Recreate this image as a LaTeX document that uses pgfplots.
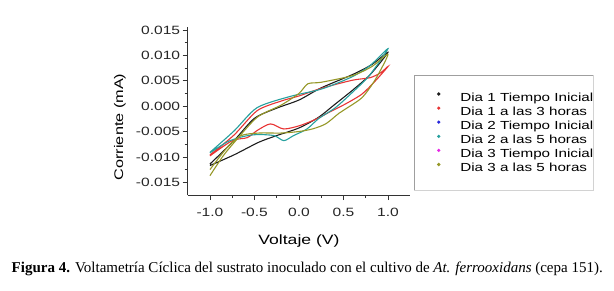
\documentclass[border=0pt]{standalone}
\usepackage{fontspec}
\setmainfont{Liberation Sans}[FakeStretch=1.3]
\newfontfamily\capfont{Liberation Serif}
\usepackage{pgfplots}
\pgfplotsset{compat=1.18}
\definecolor{cBlack}{RGB}{30,30,30}
\definecolor{cRed}{RGB}{232,52,52}
\definecolor{cBlue}{RGB}{40,40,220}
\definecolor{cTeal}{RGB}{38,160,158}
\definecolor{cMag}{RGB}{230,40,230}
\definecolor{cOlive}{RGB}{150,152,40}
\newcommand{\lgs}{\rule[-4.1pt]{0pt}{12.7pt}}
\begin{document}
\begin{tikzpicture}
\path[use as bounding box] (0,0) rectangle (614pt,-290pt);
\begin{axis}[
  at={(187.7pt,-195pt)}, anchor=south west,
  scale only axis, width=222.5pt, height=167.6pt,
  xmin=-1.25, xmax=1.25, ymin=-0.0175, ymax=0.0155,
  axis x line*=bottom, axis y line*=left,
  axis line style={-, line width=0.8pt, black!80},
  tick style={line width=0.8pt, black!80},
  tick align=outside,
  major tick length=5pt, minor tick length=3pt,
  xtick={-1,-0.5,0,0.5,1}, minor x tick num=1,
  ytick={-0.015,-0.01,-0.005,0,0.005,0.01,0.015}, minor y tick num=1,
  scaled y ticks=false, scaled x ticks=false,
  /pgf/number format/assume math mode=true,
  xticklabel style={/pgf/number format/.cd, fixed, fixed zerofill, precision=1, /tikz/.cd, yshift=-4.5pt},
  yticklabel style={/pgf/number format/.cd, fixed, fixed zerofill, precision=3, /tikz/.cd, xshift=1pt},
  tick label style={font=\fontsize{12}{14}\selectfont, black!85},
  xlabel={Voltaje (V)}, ylabel={Corriente (mA)},
  xlabel style={font=\fontsize{13.5}{16}\selectfont, at={(axis description cs:0.5,-0.298)}, anchor=base},
  ylabel style={font=\fontsize{12.5}{15}\selectfont, at={(axis description cs:-0.29,0.406)}, anchor=base},
  legend style={at={(axis description cs:1.116,0.625)}, anchor=north west, draw=none, fill=none,
    inner sep=0pt, row sep=0pt, column sep=17pt, font=\fontsize{11.7}{14}\selectfont},
  legend cell align=left,
  legend image code/.code={\path (-2pt,0) (2pt,0); \fill[#1] (0pt,3.5pt) circle (1pt);},
  every axis plot/.append style={line width=1.1pt, smooth, tension=0.45},
]
% Dia 1 Tiempo Inicial
\addplot[cBlack] coordinates {
(-1,-0.0114) (-0.73,-0.0068) (-0.5,-0.0024) (-0.25,-0.0004) (0,0.0012) (0.25,0.0036) (0.6,0.0062) (0.82,0.0082) (1.0,0.0106)
(0.8,0.0062) (0.6,0.0031) (0.4,0.0003) (0.22,-0.0022) (0.0,-0.0043) (-0.25,-0.0058) (-0.45,-0.0071) (-0.73,-0.0096) (-1,-0.0117)};
\addlegendentry{\lgs Dia 1 Tiempo Inicial}
% Dia 1 a las 3 horas
\addplot[cRed] coordinates {
(-1,-0.0096) (-0.73,-0.0057) (-0.47,-0.0009) (-0.2,0.0010) (0.0,0.0020) (0.25,0.0035) (0.6,0.0051) (0.8,0.0056) (0.92,0.0066) (1.0,0.0078)
(0.86,0.0050) (0.71,0.0024) (0.52,0.0004) (0.34,-0.0012) (0.2,-0.0025) (0.016,-0.0038) (-0.17,-0.0045) (-0.32,-0.0035) (-0.47,-0.0048) (-0.58,-0.0062) (-0.75,-0.0068) (-1,-0.0098)};
\addlegendentry{\lgs Dia 1 a las 3 horas}
\addlegendimage{cBlue}
\addlegendentry{\lgs Dia 2 Tiempo Inicial}
% Dia 2 a las 5 horas
\addplot[cTeal] coordinates {
(-1,-0.0091) (-0.73,-0.0049) (-0.47,-0.0003) (-0.1,0.0019) (0.26,0.0034) (0.6,0.0058) (0.8,0.0080) (1.0,0.0113)
(0.79,0.0060) (0.6,0.0027) (0.41,-0.0003) (0.225,-0.0024) (0.09,-0.0045) (-0.06,-0.0058) (-0.17,-0.0068) (-0.28,-0.0058) (-0.47,-0.0056) (-0.63,-0.0060) (-0.8,-0.0070) (-1,-0.0092)};
\addlegendentry{\lgs Dia 2 a las 5 horas}
\addlegendimage{cMag}
\addlegendentry{\lgs Dia 3 Tiempo Inicial}
% Dia 3 a las 5 horas
\addplot[cOlive] coordinates {
(-1,-0.0137) (-0.86,-0.0100) (-0.73,-0.0072) (-0.47,-0.0022) (-0.2,0.0002) (0.0,0.0025) (0.1,0.0044) (0.25,0.0047) (0.6,0.0060) (0.82,0.0078) (1.0,0.0102)
(0.86,0.0053) (0.71,0.0017) (0.52,-0.0006) (0.45,-0.0014) (0.3,-0.0035) (0.15,-0.0045) (0.0,-0.0050) (-0.2,-0.0053) (-0.45,-0.0053) (-0.65,-0.0058) (-0.8,-0.0080) (-1,-0.0125)};
\addlegendentry{\lgs Dia 3 a las 5 horas}
\end{axis}
\draw[gray!75, line width=0.8pt] (414pt,-190pt) -- (414pt,-75pt) -- (593pt,-75pt);
\draw[gray!35, line width=0.8pt] (593pt,-75pt) -- (593pt,-190pt) -- (414pt,-190pt);
\node[anchor=base west, inner sep=0pt] at (11.5pt,-272.5pt) {\capfont\fontsize{15}{18}\selectfont\textbf{Figura 4.} Voltametría Cíclica del sustrato inoculado con el cultivo de \textit{At. ferrooxidans} (cepa 151).};
\end{tikzpicture}
\end{document}
